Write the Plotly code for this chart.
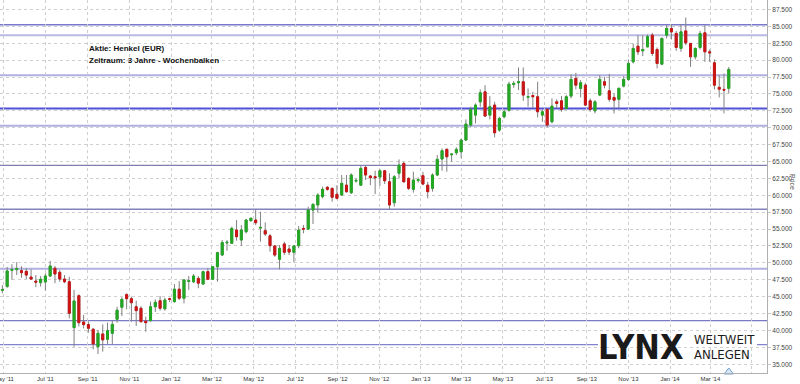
import plotly.graph_objects as go
import pandas as pd

# ---- data (weekly candles, Henkel) ----
first_week = "2011-04-29"
opens = [45.95, 46.5, 48.9, 49.0, 48.85, 48.75, 47.9, 47.3, 47.07, 47.17,
         48.05, 49.2, 48.6, 47.6, 47.2, 40.41, 45.14, 41.25, 40.86, 40.18,
         37.6, 39.48, 38.7, 39.58, 41.65, 43.43, 45.3, 44.7, 43.5, 43.28,
         41.36, 41.45, 43.5, 44.4, 43.2, 44.7, 44.26, 46.1, 44.76, 47.25,
         47.2, 47.7, 46.87, 48.7, 47.57, 49.43, 51.16, 52.95, 52.9, 54.86,
         53.38, 54.6, 56.24, 56.34, 55.15, 54.76, 54.0, 52.5, 50.53, 52.8,
         52.05, 51.56, 52.54, 55.1, 55.0, 57.82, 58.56, 59.8, 61.18, 61.03,
         60.14, 60.04, 61.5, 60.38, 62.1, 61.5, 64.13, 62.85, 62.75, 62.7,
         63.63, 62.0, 58.9, 63.25, 64.72, 62.5, 60.88, 62.2, 62.9, 61.5,
         61.03, 63.0, 65.36, 66.8, 66.0, 66.3, 66.44, 68.17, 70.39, 71.87,
         73.83, 75.31, 71.87, 73.35, 69.65, 71.62, 72.6, 76.4, 76.65, 76.8,
         74.5, 74.75, 74.58, 71.87, 72.71, 70.88, 73.83, 73.98, 72.86, 74.68,
         77.3, 75.82, 76.3, 73.98, 72.5, 74.83, 76.8, 75.46, 74.48, 74.2,
         76.16, 77.15, 79.75, 82.07, 81.38, 81.97, 83.7, 81.58, 79.41, 83.7,
         84.69, 83.95, 81.73, 84.33, 82.47, 80.49, 81.88, 84.04, 81.23, 79.6,
         75.97, 75.67, 75.82]
highs = [46.7, 49.4, 49.8, 50.1, 49.5, 49.2, 49.05, 48.2, 48.05, 48.45,
         50.3, 49.54, 48.95, 48.2, 47.95, 46.0, 45.35, 42.3, 41.3, 40.32,
         40.07, 40.9, 41.15, 41.45, 43.5, 44.9, 45.5, 45.0, 44.4, 43.6,
         42.04, 44.26, 44.6, 45.1, 44.85, 44.85, 46.87, 47.3, 47.6, 48.05,
         48.35, 48.05, 48.84, 49.2, 49.54, 51.65, 53.38, 53.38, 55.35, 56.34,
         55.6, 56.5, 56.68, 57.82, 57.57, 56.0, 54.27, 52.64, 52.64, 53.13,
         52.64, 52.64, 55.45, 55.6, 58.3, 58.8, 60.29, 61.27, 61.37, 61.12,
         61.5, 63.0, 63.0, 63.25, 62.5, 64.33, 64.33, 63.0, 63.63, 63.84,
         63.73, 63.25, 63.0, 65.3, 64.96, 62.65, 63.48, 62.65, 63.48, 62.0,
         63.25, 65.95, 66.94, 66.94, 66.2, 67.09, 68.36, 71.23, 73.1, 73.6,
         75.67, 76.3, 74.68, 73.83, 71.62, 72.71, 76.8, 76.9, 78.92, 78.92,
         75.82, 75.31, 76.8, 72.71, 72.86, 74.34, 74.2, 74.68, 74.83, 77.93,
         78.12, 77.05, 76.65, 74.34, 74.08, 77.78, 77.53, 77.98, 75.08, 75.97,
         77.63, 80.1, 82.47, 83.7, 83.7, 83.8, 84.04, 81.88, 83.36, 85.18,
         85.32, 84.33, 85.32, 86.31, 82.56, 81.88, 84.33, 85.18, 81.58, 80.1,
         77.78, 78.03, 79.0]
lows = [45.5, 46.3, 47.5, 48.2, 47.8, 47.6, 47.5, 46.4, 46.5, 45.9,
        47.87, 47.0, 47.2, 47.0, 41.8, 37.6, 40.56, 40.3, 39.67, 37.2,
        36.5, 36.86, 38.0, 38.0, 41.15, 42.14, 43.13, 41.3, 40.66, 41.15,
        39.82, 41.3, 42.73, 42.93, 42.93, 44.2, 44.1, 44.5, 44.0, 46.0,
        47.0, 46.24, 46.73, 47.47, 47.47, 47.2, 51.0, 51.8, 52.8, 53.28,
        52.5, 54.37, 56.09, 55.6, 53.13, 53.97, 51.65, 50.9, 49.05, 51.16,
        51.16, 50.08, 52.15, 54.37, 54.86, 55.75, 57.42, 59.55, 60.67, 59.05,
        59.4, 59.89, 60.38, 60.18, 61.86, 61.37, 62.26, 61.5, 60.18, 61.37,
        61.66, 57.92, 58.3, 62.5, 61.86, 60.78, 60.38, 61.86, 61.5, 59.55,
        60.53, 62.85, 63.63, 63.48, 64.96, 65.95, 65.46, 68.07, 70.14, 70.64,
        73.1, 71.62, 71.23, 68.57, 69.4, 71.38, 72.36, 75.9, 75.56, 73.98,
        73.1, 72.86, 71.53, 70.88, 70.05, 70.64, 72.86, 72.36, 72.71, 74.34,
        75.67, 74.48, 73.2, 72.36, 72.12, 74.68, 75.82, 73.83, 72.12, 72.86,
        75.97, 76.94, 79.51, 80.74, 80.6, 81.88, 80.6, 78.77, 79.26, 83.21,
        83.06, 81.38, 81.23, 82.22, 79.0, 80.1, 81.58, 79.75, 79.75, 75.67,
        74.48, 72.12, 75.08]
closes = [46.05, 48.8, 49.0, 49.15, 48.55, 48.2, 47.6, 47.15, 47.57, 48.05,
          49.54, 48.35, 47.6, 47.2, 42.54, 44.36, 41.15, 40.86, 40.32, 38.0,
          39.58, 38.6, 39.97, 40.9, 43.0, 44.6, 44.7, 44.1, 42.93, 41.3,
          41.15, 43.5, 44.17, 43.28, 44.5, 44.6, 46.1, 44.76, 47.47, 47.35,
          48.05, 47.0, 48.7, 47.57, 49.43, 51.5, 53.0, 53.05, 55.1, 53.87,
          54.86, 56.34, 56.6, 55.94, 55.25, 54.27, 52.54, 51.16, 52.15, 51.56,
          51.6, 52.5, 54.86, 55.0, 57.82, 58.66, 60.04, 60.88, 60.88, 59.7,
          59.55, 61.77, 60.53, 63.0, 62.2, 63.98, 63.0, 62.6, 62.6, 63.63,
          62.15, 58.56, 62.74, 64.47, 62.0, 61.03, 62.26, 62.3, 61.66, 60.53,
          63.0, 65.32, 66.6, 65.7, 66.1, 66.8, 68.17, 70.54, 72.71, 73.35,
          75.17, 71.72, 73.1, 69.25, 71.38, 72.36, 76.45, 76.55, 76.8, 74.83,
          74.6, 74.6, 72.36, 72.36, 70.39, 73.2, 73.6, 72.71, 74.58, 77.15,
          76.3, 76.65, 73.35, 72.71, 73.83, 77.15, 76.3, 74.2, 74.08, 75.82,
          77.15, 79.51, 81.73, 81.23, 81.58, 83.5, 80.99, 79.51, 83.21, 84.69,
          84.19, 81.88, 84.19, 82.56, 80.49, 81.73, 83.95, 81.23, 81.08, 76.3,
          75.71, 75.56, 78.63]

# support / resistance levels
levels = [85.22, 83.7, 77.78, 72.86, 70.29, 64.43, 57.92, 49.14, 41.45, 37.9]
level_colors = ["rgb(120,120,205)", "rgb(185,185,228)", "rgb(175,175,224)",
                "rgb(80,80,215)", "rgb(175,175,224)", "rgb(125,125,180)",
                "rgb(130,130,188)", "rgb(175,175,224)", "rgb(120,120,195)",
                "rgb(130,130,205)"]
level_widths = [1.5, 2, 2, 2, 2, 1.2, 1.5, 2, 1.2, 1.2]

x_tick_dates = ["2011-05-01", "2011-07-01", "2011-09-01", "2011-11-01",
                "2012-01-01", "2012-03-01", "2012-05-01", "2012-07-01",
                "2012-09-01", "2012-11-01", "2013-01-01", "2013-03-01",
                "2013-05-01", "2013-07-01", "2013-09-01", "2013-11-01",
                "2014-01-01", "2014-03-01", "2014-05-01"]
x_tick_labels = ["May '11", "Jul '11", "Sep '11", "Nov '11", "Jan '12", "Mar '12",
                 "May '12", "Jul '12", "Sep '12", "Nov '12", "Jan '13", "Mar '13",
                 "May '13", "Jul '13", "Sep '13", "Nov '13", "Jan '14", "Mar '14", ""]

title_lines = ["Aktie: Henkel (EUR)", "Zeitraum: 3 Jahre - Wochenbalken"]

dates = pd.date_range(first_week, periods=len(opens), freq="7D")
body_hi = [max(o, c) for o, c in zip(opens, closes)]
body_lo = [min(o, c) for o, c in zip(opens, closes)]

GREEN = "#22a822"
RED = "#cc1414"
WICK = "#808080"

fig = go.Figure()
# wicks (gray)
fig.add_trace(go.Candlestick(
    x=dates, open=opens, high=highs, low=lows, close=closes,
    increasing=dict(line=dict(color=WICK, width=1), fillcolor=WICK),
    decreasing=dict(line=dict(color=WICK, width=1), fillcolor=WICK),
    showlegend=False, hoverinfo="skip"))
# coloured bodies
fig.add_trace(go.Candlestick(
    x=dates, open=opens, high=body_hi, low=body_lo, close=closes,
    increasing=dict(line=dict(color=GREEN, width=1), fillcolor=GREEN),
    decreasing=dict(line=dict(color=RED, width=1), fillcolor=RED),
    showlegend=False))
# event marker
fig.add_trace(go.Scatter(
    x=[dates[-1]], y=[33.85], mode="markers", cliponaxis=False,
    marker=dict(symbol="triangle-up", size=8, color="#d6e8f7",
                line=dict(color="#6f9fcf", width=1)),
    showlegend=False, hoverinfo="skip"))

shapes = []
for lv, col, w in zip(levels, level_colors, level_widths):
    shapes.append(dict(type="line", xref="paper", x0=0, x1=1, yref="y",
                       y0=lv, y1=lv, line=dict(color=col, width=w),
                       layer="between"))
# white backdrop behind logo
shapes.append(dict(type="rect", xref="paper", yref="paper",
                   x0=598 / 767, x1=757 / 767, y0=1 - 361 / 373, y1=1 - 333 / 373,
                   fillcolor="white", line=dict(width=0), layer="between"))

LOGO_FONT = "Liberation Sans Narrow, DejaVu Sans Condensed, Liberation Sans"
annotations = [
    dict(text="<b>%s</b>" % title_lines[0], xref="paper", yref="paper",
         x=87 / 767, y=1 - 48.5 / 373, xanchor="left", yanchor="middle",
         showarrow=False, font=dict(family="Liberation Sans, Arial", size=8, color="#111")),
    dict(text="<b>%s</b>" % title_lines[1], xref="paper", yref="paper",
         x=87 / 767, y=1 - 60.5 / 373, xanchor="left", yanchor="middle",
         showarrow=False, font=dict(family="Liberation Sans, Arial", size=8, color="#111")),
    dict(text="<b>LYNX</b>", xref="paper", yref="paper",
         x=641 / 767, y=1 - 347 / 373, xanchor="center", yanchor="middle",
         showarrow=False, font=dict(family=LOGO_FONT, size=34, color="#1a1a1a")),
    dict(text="WELTWEIT", xref="paper", yref="paper",
         x=692 / 767, y=1 - 339 / 373, xanchor="left", yanchor="middle",
         showarrow=False, font=dict(family=LOGO_FONT, size=13, color="#1a1a1a")),
    dict(text="ANLEGEN", xref="paper", yref="paper",
         x=692 / 767, y=1 - 354 / 373, xanchor="left", yanchor="middle",
         showarrow=False, font=dict(family=LOGO_FONT, size=13, color="#1a1a1a")),
    dict(text="Price", xref="paper", yref="paper", x=1, xshift=26,
         y=1 - 182 / 373, xanchor="center", yanchor="middle", textangle=90,
         showarrow=False, font=dict(family="Liberation Sans, Arial", size=7, color="#555")),
]

fig.update_layout(
    width=800, height=384,
    margin=dict(l=0, r=33, t=0, b=11, autoexpand=False),
    paper_bgcolor="white", plot_bgcolor="white",
    boxgap=0.4,
    shapes=shapes, annotations=annotations,
    showlegend=False,
    xaxis=dict(type="date", range=["2011-04-25 12:00", "2014-05-23"],
               rangeslider=dict(visible=False), automargin=False,
               tickmode="array", tickvals=x_tick_dates, ticktext=x_tick_labels,
               ticklabeloverflow="allow",
               showgrid=True, gridcolor="#cfcfcf", griddash="dot", gridwidth=1,
               showline=True, linecolor="#b0b0b0", linewidth=1,
               ticks="", ticklabelstandoff=0,
               tickfont=dict(family="Liberation Sans, Arial", size=6, color="#333"),
               fixedrange=True),
    yaxis=dict(side="right", range=[33.7, 88.9], tick0=35, dtick=2.5,
               tickformat=".3f", automargin=False,
               showgrid=True, gridcolor="#cfcfcf", griddash="dot", gridwidth=1,
               showline=True, linecolor="#b0b0b0", linewidth=1,
               ticks="outside", ticklen=3, tickcolor="#c8c8c8",
               tickfont=dict(family="Liberation Sans, Arial", size=6.5, color="#444"),
               zeroline=False, fixedrange=True),
)

fig.write_html("out.html")
